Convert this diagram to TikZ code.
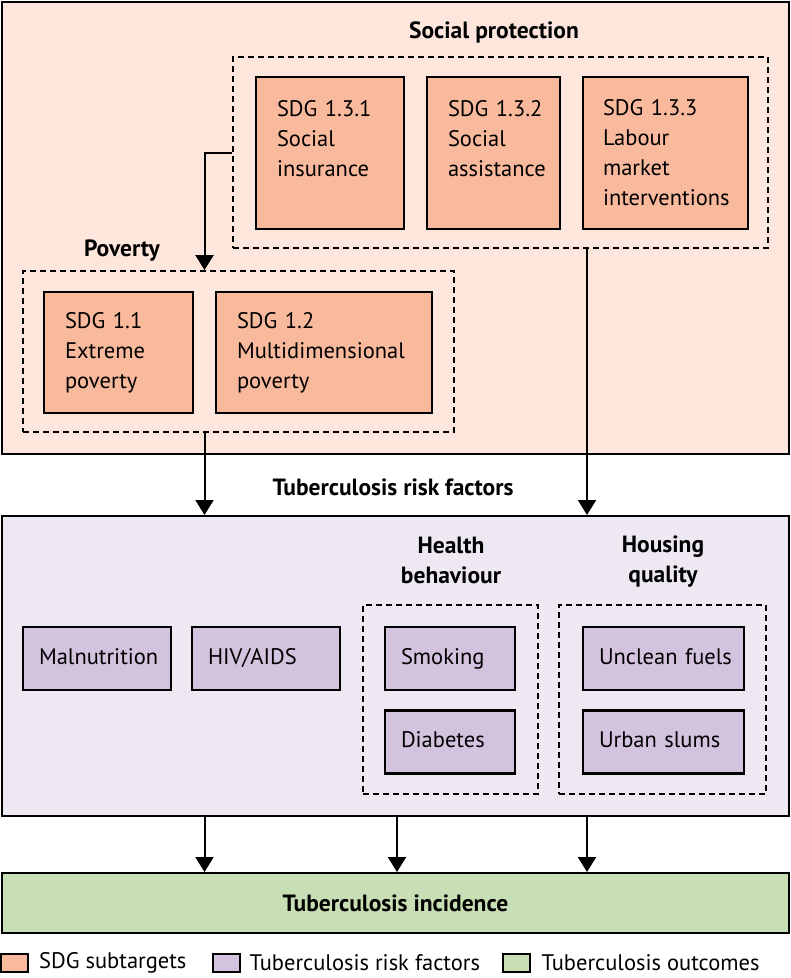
\documentclass[tikz,border=0pt]{standalone}
\usepackage{fontspec}
\setmainfont{PT Sans}
\usetikzlibrary{arrows.meta,positioning}
\definecolor{peach}{HTML}{FDE7DD}
\definecolor{salmon}{HTML}{F9B99C}
\definecolor{lilac}{HTML}{EDE8F2}
\definecolor{mauve}{HTML}{D3C3DF}
\definecolor{sage}{HTML}{C8DEB4}

\begin{document}
\begin{tikzpicture}[x=1pt,y=-1pt,
    every node/.style={font=\fontsize{22.5}{30}\selectfont},
    panel/.style={draw, line width=2pt},
    group/.style={draw, line width=1.8pt, dash pattern=on 6pt off 4pt},
    sdg/.style={draw, fill=salmon, line width=2.5pt, align=left, inner xsep=21pt, inner ysep=0pt},
    rf/.style={draw, fill=mauve, line width=2.5pt, align=left, inner xsep=16pt, inner ysep=0pt, minimum height=63pt, text height=16pt, text depth=5pt},
    head/.style={font=\fontsize{23.5}{30}\selectfont\bfseries, align=center},
    arr/.style={line width=2pt, -{Triangle[width=18pt,length=15pt]}},
    swatch/.style={draw, line width=2pt, minimum width=27pt, minimum height=18pt, inner sep=0pt}]

        \useasboundingbox (0,0) rectangle (791,978);

        % social protection and poverty
        \node[panel, fill=peach, minimum width=787pt, minimum height=452pt] (Top) at (395.5,228) {};
        \node[head] (SPl) at (494,32) {Social protection};
        \node[group, minimum width=535pt, minimum height=191pt] (SP) at (500.5,152.5) {};
        \node[sdg, text width=106pt, minimum height=152pt] (S1) at (330,153) {SDG~1.3.1\\Social\\insurance\\\phantom{x}};
        \node[sdg, text width=91pt, minimum height=152pt] (S2) at (493.5,153) {SDG~1.3.2\\Social\\assistance\\\phantom{x}};
        \node[sdg, inner xsep=20pt, text width=125pt, minimum height=152pt] (S3) at (665.5,153) {SDG~1.3.3\\Labour\\market\\interventions};
        \node[head] (Povl) at (122,251) {Poverty};
        \node[group, minimum width=431pt, minimum height=161pt] (Pov) at (238.5,351.5) {};
        \node[sdg, text width=107pt, minimum height=121pt] (P1) at (118.5,352.5) {SDG~1.1\\Extreme\\poverty};
        \node[sdg, text width=174pt, minimum height=121pt] (P2) at (324,352.5) {SDG~1.2\\\mbox{Multidimensional}\\poverty};

        % risk factors
        \node[head] (RFl) at (393,487) {Tuberculosis risk factors};
        \node[panel, fill=lilac, minimum width=787pt, minimum height=300pt] (RF) at (395.5,666) {};
        \node[rf, text width=116pt] (Mal) at (97,658.5) {Malnutrition};
        \node[rf, text width=116pt] (HIV) at (266,658.5) {HIV/AIDS};
        \node[head] (HBl) at (451,560) {Health\\behaviour};
        \node[group, minimum width=175pt, minimum height=189pt] (HB) at (450.5,699.5) {};
        \node[rf, text width=98pt] (Smk) at (450,658.5) {Smoking};
        \node[rf, text width=98pt] (Dia) at (450,742) {Diabetes};
        \node[head] (HQl) at (663,562) {Housing\\quality};
        \node[group, minimum width=207pt, minimum height=189pt] (HQ) at (662.5,699.5) {};
        \node[rf, text width=129pt] (Fuel) at (663.5,658.5) {\mbox{Unclean fuels}};
        \node[rf, text width=129pt] (Slum) at (663.5,742) {\mbox{Urban slums}};

        % outcome
        \node[panel, fill=sage, minimum width=787pt, minimum height=60pt, head] (Inc) at (395.5,903) {Tuberculosis incidence};

        \coordinate (xl) at (204.5,0);
        \coordinate (xm) at (397,0);
        \coordinate (xr) at (587,0);
        \draw[arr] (SP.west) -| (xl |- Pov.north);
        \draw[arr] (xl |- Pov.south) -- (xl |- RF.north);
        \draw[arr] (xr |- SP.south) -- (xr |- RF.north);
        \draw[arr] (xl |- RF.south) -- (xl |- Inc.north);
        \draw[arr] (xm |- RF.south) -- (xm |- Inc.north);
        \draw[arr] (xr |- RF.south) -- (xr |- Inc.north);

        % legend
        \node[swatch, fill=salmon] (L1) at (14.5,963) {};
        \node[right=10pt of L1, inner sep=0pt] (L1t) {SDG subtargets};
        \node[swatch, fill=mauve] (L2) at (226,963) {};
        \node[right=9pt of L2, inner sep=0pt] (L2t) {Tuberculosis risk factors};
        \node[swatch, fill=sage] (L3) at (516,963) {};
        \node[right=11pt of L3, inner sep=0pt] (L3t) {Tuberculosis outcomes};
\end{tikzpicture}
\end{document}
